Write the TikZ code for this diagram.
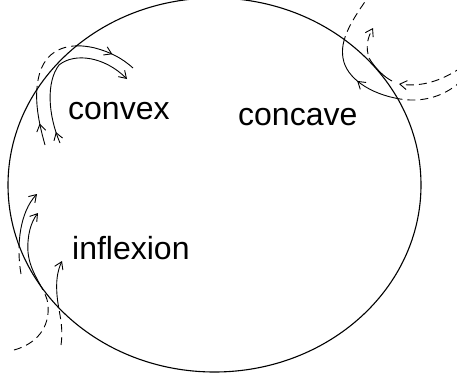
\documentclass[tikz,border=0pt]{standalone}
\usepackage{fontspec}
\setmainfont{Liberation Sans}
\usetikzlibrary{arrows.meta, decorations.markings}

\newcommand{\convexCut}{(45,145) .. controls (38,120) and (33,95) .. (40,72) .. controls (48,48) and (70,42) .. (95,48) .. controls (110,52) and (122,58) .. (133,68)}
\newcommand{\convexTouch}{(60,143) .. controls (48,115) and (46,82) .. (59,65) .. controls (75,52) and (105,57) .. (127,79)}
\newcommand{\concaveCut}{(462,80) .. controls (447,95) and (425,103) .. (400,99) .. controls (370,94) and (346,78) .. (343,58) .. controls (340,40) and (350,22) .. (372,-8)}
\newcommand{\inflexA}{(21,274) .. controls (16,245) and (20,212) .. (37,194)}
\newcommand{\inflexB}{(14,350) .. controls (36,344) and (50,328) .. (48,305) .. controls (47,290) and (30,275) .. (28,252) .. controls (27,235) and (31,222) .. (38,213)}
\newcommand{\inflexC}{(61,345) .. controls (64,325) and (58,310) .. (57,295) .. controls (56,282) and (57,272) .. (62,261)}

\begin{document}
\begin{tikzpicture}[x=1pt,y=-1pt,
  >={Straight Barb[length=7pt,width=9pt]},
  flow/.style={line width=0.9pt},
  outside/.style={dash pattern=on 8pt off 5pt},
  tip at/.style={postaction={decorate,decoration={markings,mark=at position #1 with {\arrow{>}}}}},
  region/.style={font=\fontsize{32}{38}\selectfont,inner sep=0pt,anchor=base west}]
  \path[use as bounding box] (0,0) rectangle (457,380);
  \clip (0,0) rectangle (457,380);

  \draw[flow,outside,tip at=0.12,tip at=0.865] \convexCut;
  \draw[flow,outside,tip at=0.53] \concaveCut;
  \draw[flow,outside,->] \inflexA;
  \draw[flow,outside,->] \inflexB;
  \draw[flow,outside,->] \inflexC;

  \fill[white] (214.5,185) ellipse [x radius=206.5,y radius=187];
  \begin{scope}
    \clip (214.5,185) ellipse [x radius=206.5,y radius=187];
    \draw[flow,tip at=0.12,tip at=0.865] \convexCut;
    \draw[flow,->,tip at=0.075] \convexTouch;
    \draw[flow,tip at=0.53] \concaveCut;
    \draw[flow,->] \inflexA;
    \draw[flow,->] \inflexB;
    \draw[flow,->] \inflexC;
  \end{scope}
  \draw[line width=1.1pt] (214.5,185) ellipse [x radius=206.5,y radius=187];

  \draw[flow,outside,->] (462,67) .. controls (440,82) and (420,87) .. (399,84);
  \draw[flow] (392,81) .. controls (384,77) and (375,68) .. (369,58);
  \draw[flow,outside,->] (368,54) .. controls (366,45) and (368,37) .. (373,28);

  \node[region] (convex) at (68,119) {convex};
  \node[region] (concave) at (238,125) {concave};
  \node[region] (inflexion) at (72,259) {inflexion};
\end{tikzpicture}
\end{document}
